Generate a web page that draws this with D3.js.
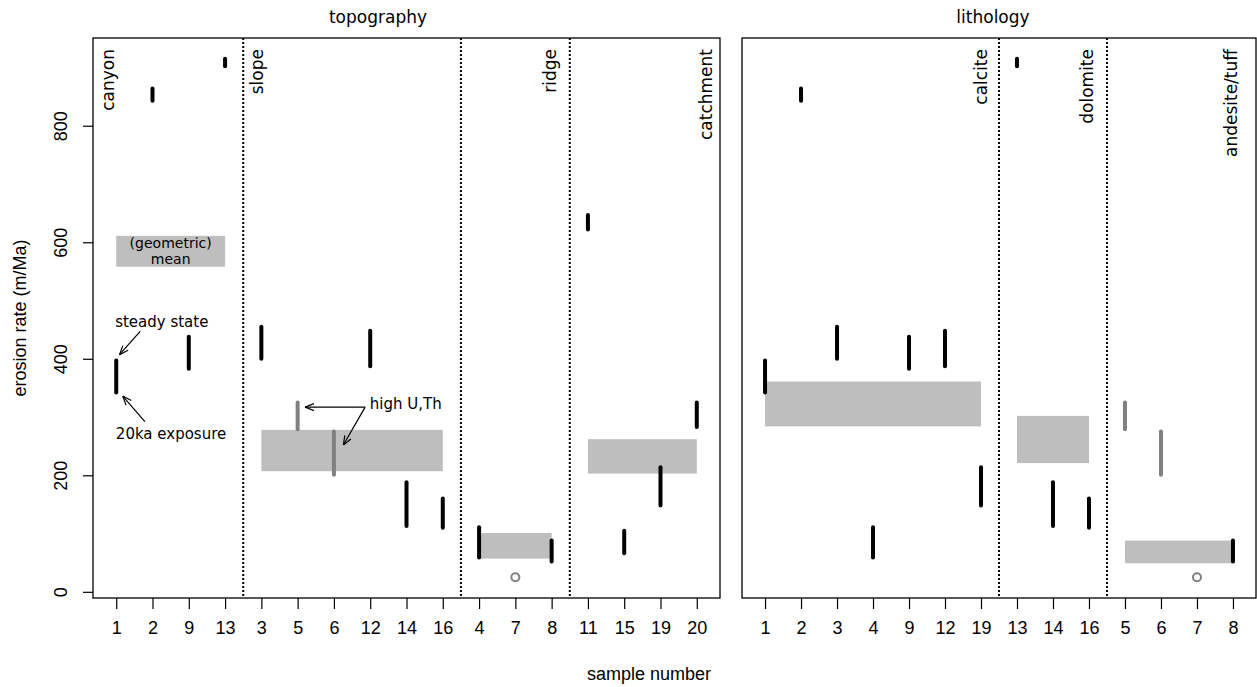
<!DOCTYPE html>
<html>
<head>
<meta charset="utf-8">
<script src="https://cdn.jsdelivr.net/npm/d3@7"></script>
<style>
  body { margin: 0; background: #fff; }
</style>
</head>
<body>
<div id="chart"></div>
<script>
// erosion rate interval per sample (m/Ma)
const samples  = [1, 2, 3, 4, 5, 6, 7, 8, 9, 11, 12, 13, 14, 15, 16, 19, 20]
const rateLow  = [342, 843, 400, 59, 279, 201, 25, 52, 383, 622, 387, 902, 113, 66, 110, 148, 283]
const rateHigh = [397, 864, 455, 111, 325, 275, 25, 88, 438, 647, 448, 915, 188, 105, 160, 214, 325]
const highUTh  = [5, 6]      // drawn in grey
const pointOnly = [7]        // open circle

// topography groups
const topoNames    = ["canyon", "slope", "ridge", "catchment"]
const topoMembers  = [[1, 2, 9, 13], [3, 5, 6, 12, 14, 16], [4, 7, 8], [11, 15, 19, 20]]
const topoMeanLow  = [558, 207, 57, 203]
const topoMeanHigh = [611, 278, 101, 262]

// lithology groups
const lithoNames    = ["calcite", "dolomite", "andesite/tuff"]
const lithoMembers  = [[1, 2, 3, 4, 9, 12, 19], [13, 14, 16], [5, 6, 7, 8]]
const lithoMeanLow  = [284, 221, 49]
const lithoMeanHigh = [361, 302, 88]

const yTicks = [0, 200, 400, 600, 800]

const W = 1257, H = 687
const plotTop = 38, plotBottom = 598
const plotFont = "'DejaVu Sans', sans-serif"
const axisFont = "'Liberation Sans', Arial, sans-serif"

const svg = d3.select("#chart").append("svg")
  .attr("width", W).attr("height", H)

// y scale, padded like R (4% each side)
const allVals = rateLow.concat(rateHigh)
const yExt = d3.extent(allVals)
const yPad = 0.04 * (yExt[1] - yExt[0])
const y = d3.scaleLinear()
  .domain([yExt[0] - yPad, yExt[1] + yPad])
  .range([plotBottom, plotTop])

// arrow head
svg.append("defs").append("marker")
  .attr("id", "arr")
  .attr("viewBox", "0 0 10 10")
  .attr("refX", 10).attr("refY", 5)
  .attr("markerWidth", 10).attr("markerHeight", 10)
  .attr("markerUnits", "userSpaceOnUse")
  .attr("orient", "auto")
  .append("path")
    .attr("d", "M1,1.5 L10,5 L1,8.5")
    .attr("fill", "none")
    .attr("stroke", "#000")
    .attr("stroke-width", 1.2)

function drawPanel(opts) {
  const order = opts.members.flat()
  const x = d3.scaleLinear()
    .domain([1 - 0.64, order.length + 0.64])
    .range([opts.x0, opts.x1])
  const g = svg.append("g")

  // group mean bands
  let pos = 1
  const groups = opts.members.map(function(m, i) {
    const grp = { name: opts.names[i], first: pos, last: pos + m.length - 1,
                  lo: opts.meanLow[i], hi: opts.meanHigh[i] }
    pos += m.length
    return grp
  })
  g.selectAll("rect.mean")
    .data(groups)
    .enter()
    .append("rect")
      .attr("x", d => x(d.first))
      .attr("width", d => x(d.last) - x(d.first))
      .attr("y", d => y(d.hi))
      .attr("height", d => y(d.lo) - y(d.hi))
      .attr("fill", "#bebebe")

  // dividers
  g.selectAll("line.div")
    .data(groups.slice(1))
    .enter()
    .append("line")
      .attr("x1", d => x(d.first - 0.5))
      .attr("x2", d => x(d.first - 0.5))
      .attr("y1", plotTop).attr("y2", plotBottom)
      .attr("stroke", "#000")
      .attr("stroke-width", 2)
      .attr("stroke-dasharray", "2,2")

  // sample intervals
  const pts = order.map(function(s, i) {
    const k = samples.indexOf(s)
    return { s: s, i: i + 1, lo: rateLow[k], hi: rateHigh[k] }
  })
  g.selectAll("line.seg")
    .data(pts.filter(d => !pointOnly.includes(d.s)))
    .enter()
    .append("line")
      .attr("x1", d => x(d.i)).attr("x2", d => x(d.i))
      .attr("y1", d => y(d.lo)).attr("y2", d => y(d.hi))
      .attr("stroke", d => highUTh.includes(d.s) ? "#808080" : "#000")
      .attr("stroke-width", 4)
      .attr("stroke-linecap", "round")
  g.selectAll("circle.pt")
    .data(pts.filter(d => pointOnly.includes(d.s)))
    .enter()
    .append("circle")
      .attr("cx", d => x(d.i))
      .attr("cy", d => y(d.lo))
      .attr("r", 4)
      .attr("fill", "none")
      .attr("stroke", "#808080")
      .attr("stroke-width", 2)

  // group labels (rotated, at the top)
  groups.forEach(function(d, i) {
    const bx = opts.labelSide[i] === "L" ? x(d.first) + opts.labelDx[i] : x(d.last) + opts.labelDx[i]
    g.append("text")
      .attr("transform", "translate(" + bx + "," + (plotTop + 11) + ") rotate(-90)")
      .attr("text-anchor", "end")
      .style("font-family", plotFont)
      .style("font-size", "17px")
      .text(d.name)
  })

  // box
  g.append("rect")
    .attr("x", opts.x0).attr("y", plotTop)
    .attr("width", opts.x1 - opts.x0).attr("height", plotBottom - plotTop)
    .attr("fill", "none").attr("stroke", "#000").attr("stroke-width", 1.3)

  // x axis
  const ax = g.append("g")
    .attr("transform", "translate(0," + plotBottom + ")")
    .call(d3.axisBottom(x)
      .tickValues(d3.range(1, order.length + 1))
      .tickFormat(i => order[i - 1])
      .tickSize(11).tickPadding(12).tickSizeOuter(0))
  ax.select(".domain").remove()
  ax.selectAll("line").attr("stroke-width", 1.2)
  ax.selectAll("text")
    .style("font-family", axisFont)
    .style("font-size", "18px")
    .attr("fill", "#000")

  // title
  g.append("text")
    .attr("x", opts.titleX).attr("y", 23)
    .attr("text-anchor", "middle")
    .style("font-family", plotFont)
    .style("font-size", "17px")
    .text(opts.title)

  return x
}

const xTopo = drawPanel({
  members: topoMembers, names: topoNames,
  meanLow: topoMeanLow, meanHigh: topoMeanHigh,
  x0: 93, x1: 720, title: "topography", titleX: 378,
  labelSide: ["L", "L", "R", "R"], labelDx: [-2, 2, 4, 15]
})

drawPanel({
  members: lithoMembers, names: lithoNames,
  meanLow: lithoMeanLow, meanHigh: lithoMeanHigh,
  x0: 742, x1: 1256, title: "lithology", titleX: 993,
  labelSide: ["R", "R", "R"], labelDx: [6, 4, 4]
})

// y axis on the left panel
const ay = svg.append("g")
  .attr("transform", "translate(93,0)")
  .call(d3.axisLeft(y).tickValues(yTicks).tickSize(10).tickFormat(d3.format("d")))
ay.select(".domain").remove()
ay.selectAll("line").attr("stroke-width", 1.2)
ay.selectAll("text")
  .attr("x", null).attr("dy", null)
  .attr("text-anchor", "middle")
  .attr("transform", "translate(-26,0) rotate(-90)")
  .style("font-family", axisFont)
  .style("font-size", "18px")
  .attr("fill", "#000")

// axis titles
svg.append("text")
  .attr("transform", "translate(26," + ((plotTop + plotBottom) / 2) + ") rotate(-90)")
  .attr("text-anchor", "middle")
  .style("font-family", axisFont)
  .style("font-size", "18px")
  .text("erosion rate (m/Ma)")
svg.append("text")
  .attr("x", 649).attr("y", 680)
  .attr("text-anchor", "middle")
  .style("font-family", axisFont)
  .style("font-size", "18px")
  .text("sample number")

// annotations in the canyon / slope area
const note = svg.append("g").style("font-family", plotFont).style("font-size", "15px")
const meanBand = { x: (xTopo(1) + xTopo(4)) / 2, y: y((topoMeanLow[0] + topoMeanHigh[0]) / 2) }
note.append("text").attr("x", meanBand.x).attr("y", meanBand.y - 3)
  .attr("text-anchor", "middle").style("font-size", "14px").text("(geometric)")
note.append("text").attr("x", meanBand.x).attr("y", meanBand.y + 13)
  .attr("text-anchor", "middle").style("font-size", "14px").text("mean")

note.append("text").attr("x", xTopo(0.97)).attr("y", y(455)).text("steady state")
note.append("text").attr("x", xTopo(0.99)).attr("y", y(262)).text("20ka exposure")
note.append("text").attr("x", xTopo(7.99)).attr("y", y(314)).text("high U,Th")

const arrows = [
  [1.66, 447, 1.09, 407],
  [1.79, 292, 1.18, 336],
  [7.86, 317, 6.2, 317],
  [7.86, 317, 7.26, 252]
]
note.selectAll("line.arrow")
  .data(arrows)
  .enter()
  .append("line")
    .attr("x1", d => xTopo(d[0])).attr("y1", d => y(d[1]))
    .attr("x2", d => xTopo(d[2])).attr("y2", d => y(d[3]))
    .attr("stroke", "#000")
    .attr("stroke-width", 1.2)
    .attr("marker-end", "url(#arr)")
</script>
</body>
</html>
